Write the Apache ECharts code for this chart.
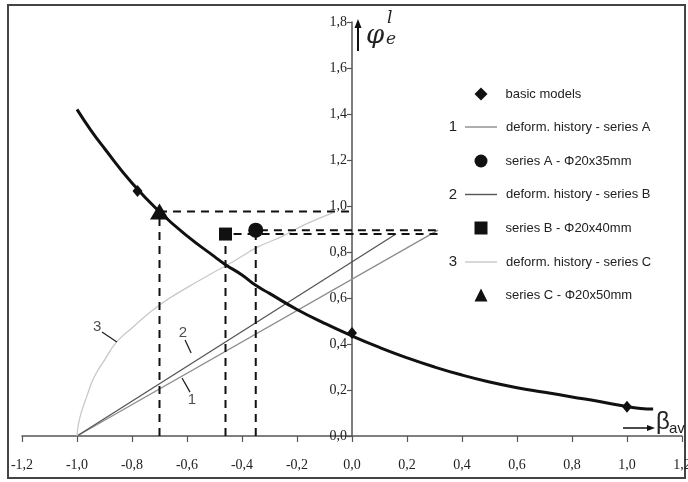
<!DOCTYPE html>
<html>
<head>
<meta charset="utf-8">
<script src="https://cdn.jsdelivr.net/npm/echarts@6/dist/echarts.min.js"></script>
<style>
  html, body, #main { width: 100%; height: 100%; margin: 0; background: #fff; }
</style>
</head>
<body>
<div id="main"></div>
<script>
// basic model curve (thick black line)
var modelX = [-1.0, -0.95, -0.9, -0.8, -0.7, -0.6, -0.5, -0.46, -0.4, -0.35, -0.3, -0.2, -0.1, 0, 0.1, 0.2, 0.3, 0.4, 0.5, 0.6, 0.7, 0.8, 0.9, 1.0, 1.05, 1.095];
var modelY = [1.42, 1.33, 1.25, 1.10, 0.975, 0.87, 0.78, 0.745, 0.70, 0.655, 0.62, 0.55, 0.49, 0.435, 0.385, 0.34, 0.30, 0.265, 0.235, 0.21, 0.19, 0.17, 0.15, 0.128, 0.12, 0.117];

// basic models (diamonds)
var basicX = [-0.78, 0, 1.0];
var basicY = [1.065, 0.448, 0.127];

// deformation histories
var historyAX = [-1.0, 0.313];
var historyAY = [0, 0.895];
var historyBX = [-1.0, 0.16];
var historyBY = [0, 0.878];
var historyCX = [-1.0, -0.995, -0.985, -0.965, -0.94, -0.9, -0.855, -0.8, -0.7, -0.6, -0.52, -0.43, -0.345, -0.25, -0.17, -0.07];
var historyCY = [0, 0.05, 0.10, 0.17, 0.25, 0.33, 0.41, 0.47, 0.57, 0.645, 0.70, 0.76, 0.82, 0.87, 0.92, 0.97];

// final points of the series
var pointA = [-0.35, 0.895];
var pointB = [-0.46, 0.878];
var pointC = [-0.70, 0.976];
var guideEnd = [0.313, 0.313, 0];

// curve numbers with leader lines
var noteText = ['1', '2', '3'];
var noteAt = [[-0.582, 0.157], [-0.615, 0.448], [-0.927, 0.474]];
var noteLeader = [
  [[-0.618, 0.252], [-0.589, 0.191]],
  [[-0.607, 0.417], [-0.585, 0.361]],
  [[-0.909, 0.452], [-0.855, 0.409]]
];

var xTicks = [-1.2, 1.2, 0.2];
var yTicks = [0, 1.8, 0.2];

function pairs(xs, ys) {
  return xs.map(function (x, i) { return [x, ys[i]]; });
}
function guide(p, endX) {
  return [[p[0], 0], [p[0], p[1]], [endX, p[1]]];
}
function comma(v) {
  return v.toFixed(1).replace('.', ',');
}

var chart = echarts.init(document.getElementById('main'));

var serif = 'Liberation Serif';
var sans = 'Liberation Sans';
var dashed = { color: '#111', width: 2, type: [8, 6] };
var solid = { color: '#111', opacity: 1 };

var series = [
  {
    name: 'deform. history - series A', type: 'line', symbol: 'none',
    data: pairs(historyAX, historyAY),
    lineStyle: { color: '#8c8c8c', width: 1.3 }, itemStyle: { color: '#8c8c8c' }
  },
  {
    name: 'deform. history - series B', type: 'line', symbol: 'none',
    data: pairs(historyBX, historyBY),
    lineStyle: { color: '#555', width: 1.3 }, itemStyle: { color: '#555' }
  },
  {
    name: 'deform. history - series C', type: 'line', symbol: 'none', smooth: true,
    data: pairs(historyCX, historyCY),
    lineStyle: { color: '#c8c8c8', width: 1.3 }, itemStyle: { color: '#c8c8c8' }
  },
  { name: 'guide A', type: 'line', symbol: 'none', data: guide(pointA, guideEnd[0]), lineStyle: dashed },
  { name: 'guide B', type: 'line', symbol: 'none', data: guide(pointB, guideEnd[1]), lineStyle: dashed },
  { name: 'guide C', type: 'line', symbol: 'none', data: guide(pointC, guideEnd[2]), lineStyle: dashed },
  {
    name: 'model curve', type: 'line', symbol: 'none', smooth: true,
    data: pairs(modelX, modelY),
    lineStyle: { color: '#111', width: 3 }
  },
  {
    name: 'basic models', type: 'scatter', symbol: 'diamond', symbolSize: [10, 12],
    data: pairs(basicX, basicY), itemStyle: solid
  },
  {
    name: 'series A - Φ20x35mm', type: 'scatter', symbol: 'circle', symbolSize: 15,
    data: [pointA], itemStyle: solid
  },
  {
    name: 'series B - Φ20x40mm', type: 'scatter', symbol: 'rect', symbolSize: 13,
    data: [pointB], itemStyle: solid
  },
  {
    name: 'series C - Φ20x50mm', type: 'scatter', symbol: 'triangle', symbolSize: [19, 16],
    data: [pointC], itemStyle: solid
  },
  {
    name: 'notes', type: 'scatter', symbolSize: 0,
    data: noteText.map(function (t, i) { return { name: t, value: noteAt[i] }; }),
    label: {
      show: true, position: 'inside', formatter: '{b}',
      fontFamily: sans, fontSize: 15, color: '#222'
    }
  }
];

noteLeader.forEach(function (seg, i) {
  series.push({
    name: 'leader ' + noteText[i], type: 'line', symbol: 'none', data: seg,
    lineStyle: { color: '#222', width: 1.3 }
  });
});

chart.setOption({
  animation: false,
  grid: { left: 22, right: 6, top: 22, bottom: 46, outerBoundsMode: 'none' },
  xAxis: {
    type: 'value', min: xTicks[0], max: xTicks[1], interval: xTicks[2],
    splitLine: { show: false },
    axisLine: { onZero: true, lineStyle: { color: '#555', width: 1.5 } },
    axisTick: { length: 6, lineStyle: { color: '#555', width: 1.2 } },
    axisLabel: {
      margin: 22, formatter: comma, showMaxLabel: true, hideOverlap: false,
      fontFamily: serif, fontSize: 14, color: '#222'
    }
  },
  yAxis: {
    type: 'value', min: yTicks[0], max: yTicks[1], interval: yTicks[2],
    position: 'left', offset: -330,
    splitLine: { show: false },
    axisLine: { onZero: false, lineStyle: { color: '#555', width: 1.5 } },
    axisTick: { length: 5, lineStyle: { color: '#555', width: 1.2 } },
    axisLabel: {
      margin: 5, formatter: comma,
      fontFamily: serif, fontSize: 14, color: '#222'
    }
  },
  legend: [
    {
      orient: 'vertical', left: 474.5, top: 87.5, padding: 0,
      itemWidth: 13, itemHeight: 13, itemGap: 54,
      selectedMode: false,
      textStyle: { fontFamily: sans, fontSize: 13, color: '#222', padding: [0, 0, 0, 13] },
      data: [
        { name: 'basic models', icon: 'diamond' },
        { name: 'series A - Φ20x35mm', icon: 'circle' },
        { name: 'series B - Φ20x40mm', icon: 'rect' },
        { name: 'series C - Φ20x50mm', icon: 'triangle' }
      ]
    },
    {
      orient: 'vertical', left: 465, top: 120.5, padding: 0,
      itemWidth: 32, itemHeight: 1.4, itemGap: 54.5,
      selectedMode: false,
      textStyle: { fontFamily: sans, fontSize: 13, color: '#222', padding: [0, 0, 0, 4] },
      data: [
        { name: 'deform. history - series A', icon: 'rect' },
        { name: 'deform. history - series B', icon: 'rect' },
        { name: 'deform. history - series C', icon: 'rect' }
      ]
    }
  ],
  graphic: [
    {
      type: 'rect', shape: { x: 8, y: 5, width: 677, height: 473 },
      style: { fill: 'none', stroke: '#444', lineWidth: 2 }, silent: true
    },
    // legend numbers
    { type: 'text', x: 453, y: 127, style: { text: '1', fontFamily: sans, fontSize: 15, fill: '#222', align: 'center', verticalAlign: 'middle' } },
    { type: 'text', x: 453, y: 195, style: { text: '2', fontFamily: sans, fontSize: 15, fill: '#222', align: 'center', verticalAlign: 'middle' } },
    { type: 'text', x: 453, y: 262, style: { text: '3', fontFamily: sans, fontSize: 15, fill: '#222', align: 'center', verticalAlign: 'middle' } },
    // y axis name
    { type: 'line', shape: { x1: 358, y1: 51, x2: 358, y2: 27 }, style: { stroke: '#111', lineWidth: 2 } },
    { type: 'polygon', shape: { points: [[354.5, 28], [361.5, 28], [358, 19]] }, style: { fill: '#111' } },
    { type: 'text', x: 366, y: 23, style: { text: 'φ', fontFamily: 'DejaVu Serif', fontStyle: 'italic', fontSize: 26, fill: '#222' } },
    { type: 'text', x: 387, y: 10, style: { text: 'l', fontFamily: 'DejaVu Serif', fontStyle: 'italic', fontSize: 17, fill: '#222' } },
    { type: 'text', x: 386, y: 31, style: { text: 'e', fontFamily: 'DejaVu Serif', fontStyle: 'italic', fontSize: 17, fill: '#222' } },
    // x axis name
    { type: 'line', shape: { x1: 623, y1: 428, x2: 649, y2: 428 }, style: { stroke: '#111', lineWidth: 1.5 } },
    { type: 'polygon', shape: { points: [[647, 425], [647, 431], [655, 428]] }, style: { fill: '#111' } },
    { type: 'text', x: 656, y: 410, style: { text: 'β', fontFamily: sans, fontSize: 24, fill: '#222' } },
    { type: 'text', x: 669, y: 421, style: { text: 'av', fontFamily: sans, fontSize: 15, fill: '#222' } }
  ],
  series: series
});
</script>
</body>
</html>
